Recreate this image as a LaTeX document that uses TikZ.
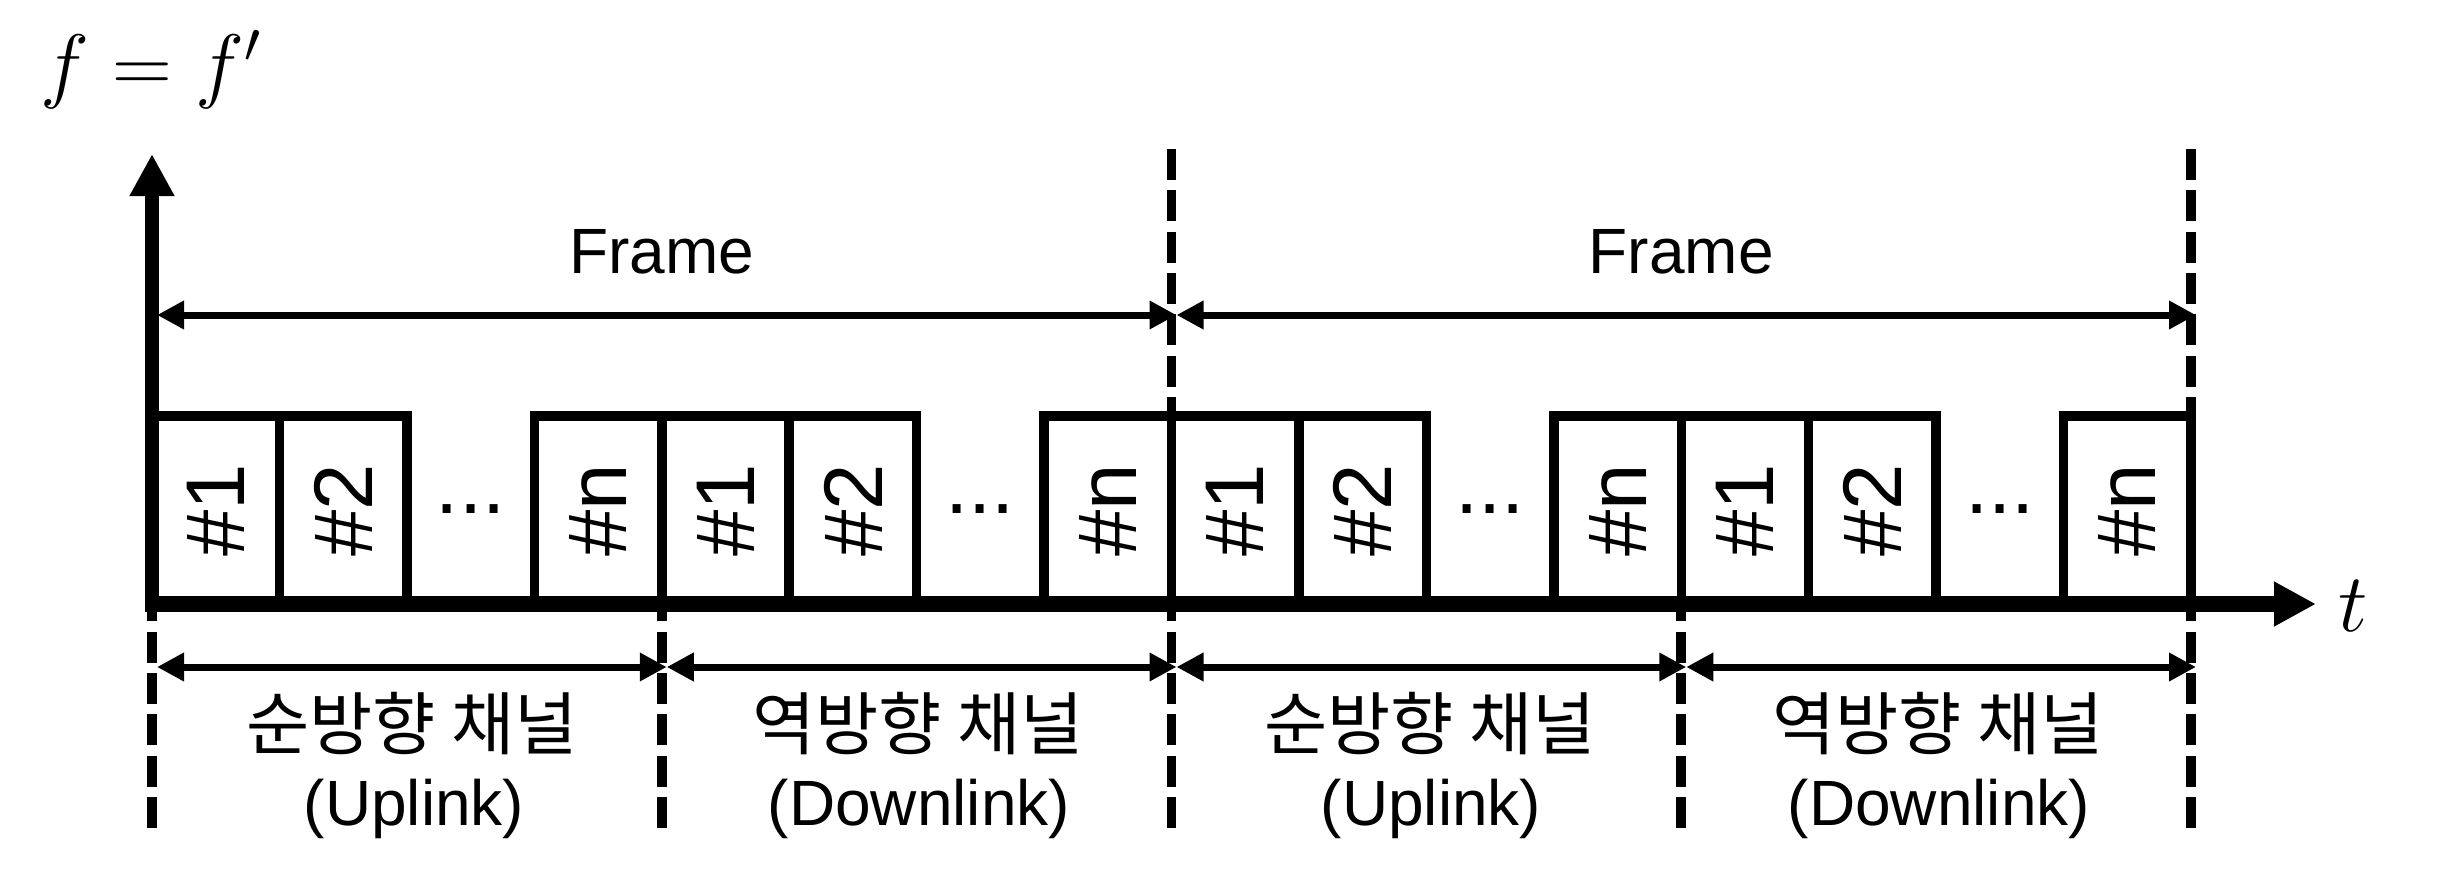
\documentclass[tikz,border=0pt]{standalone}
\usepackage[no-math]{fontspec}
\setmainfont{Liberation Sans}
\newfontfamily\kofont{Noto Sans CJK KR}
\usepackage{graphicx}
\usetikzlibrary{arrows.meta}
\begin{document}
\begin{tikzpicture}[x=0.3pt,y=-0.3pt,
  slot/.style={draw, line width=2.85pt, minimum width=38.23pt, minimum height=56.4pt,
    inner sep=0pt, font=\fontsize{25}{30}\selectfont},
  dotsnode/.style={inner sep=0pt, anchor=base, font=\fontsize{25}{30}\selectfont},
  dimarrow/.style={line width=2.1pt,
    {Triangle[length=8.1pt,width=8.1pt]}-{Triangle[length=8.1pt,width=8.1pt]}},
  bound/.style={line width=2.9pt, dash pattern=on 9.3pt off 3.1pt},
  axisline/.style={line width=#1, -{Triangle[length=12.6pt,width=12.6pt]}},
  lbl/.style={font=\fontsize{19.2}{23}\selectfont, inner sep=0pt, anchor=base},
  kolbl/.style={font=\kofont\fontsize{20.6}{24}\selectfont, inner sep=0pt, anchor=base},
  mathlbl/.style={font=\fontsize{25}{30}\selectfont, inner sep=0pt, anchor=base west}
]
\useasboundingbox (0,0) rectangle (2463,877);

% boxes
\foreach \g in {0,1,2,3}{
  \pgfmathsetmacro{\L}{152+509.75*\g}
  \node[slot] (b\g-1) at ({\L+0.5*127.44},510) {\rotatebox{90}{\#1}};
  \node[slot] (b\g-2) at ({\L+1.5*127.44},510) {\rotatebox{90}{\#2}};
  \node[dotsnode] (dots\g) at ({\L+2.5*127.44},513) {...};
  \node[slot] (b\g-n) at ({\L+3.5*127.44},510) {\rotatebox{90}{\#n}};
}

% boundary coordinates
\foreach \k/\x in {0/152,1/661.75,2/1171.5,3/1681.25,4/2191}{
  \coordinate (top\k) at (\x,149);
  \coordinate (boxtop\k) at (\x,416);
  \coordinate (ax\k) at (\x,612);
  \coordinate (bot\k) at (\x,828);
  \coordinate (fr\k) at (\x+5,315);
  \coordinate (ch\k) at (\x+5,667);
}

% dashed boundaries
\foreach \k in {0,1,2,3,4}{
  \draw[bound] (bot\k) -- (ax\k);
}
\draw[bound] (top2) -- (boxtop2);
\draw[bound] (top4) -- (boxtop4);

% axes
\coordinate (xstart) at (147,604);
\coordinate (xtip) at (2316,604);
\coordinate (ystart) at (152,612);
\coordinate (ytip) at (152,154);
\draw[axisline=4.8pt] (xstart) -- (xtip);
\draw[axisline=4.2pt] (ystart) -- (ytip);

% frame arrows
\draw[dimarrow] (fr0) -- (fr2);
\draw[dimarrow] (fr2) -- (fr4);
\node[lbl] (frameA) at (661.75,273) {Frame};
\node[lbl] (frameB) at (1681.25,273) {Frame};

% channel arrows
\draw[dimarrow] (ch0) -- (ch1);
\draw[dimarrow] (ch1) -- (ch2);
\draw[dimarrow] (ch2) -- (ch3);
\draw[dimarrow] (ch3) -- (ch4);

\node[kolbl] (ko1) at (412,749) {순방향 채널};
\node[lbl]   (en1) at (414,825) {(Uplink)};
\node[kolbl] (ko2) at (918,749) {역방향 채널};
\node[lbl]   (en2) at (919,825) {(Downlink)};
\node[kolbl] (ko3) at (1430,749) {순방향 채널};
\node[lbl]   (en3) at (1431,825) {(Uplink)};
\node[kolbl] (ko4) at (1938,749) {역방향 채널};
\node[lbl]   (en4) at (1939,825) {(Downlink)};

% math labels
\node[mathlbl] (feq) at (40,93) {$f = f'$};
\node[mathlbl] (tlab) at (2338,631) {$t$};
\end{tikzpicture}
\end{document}
